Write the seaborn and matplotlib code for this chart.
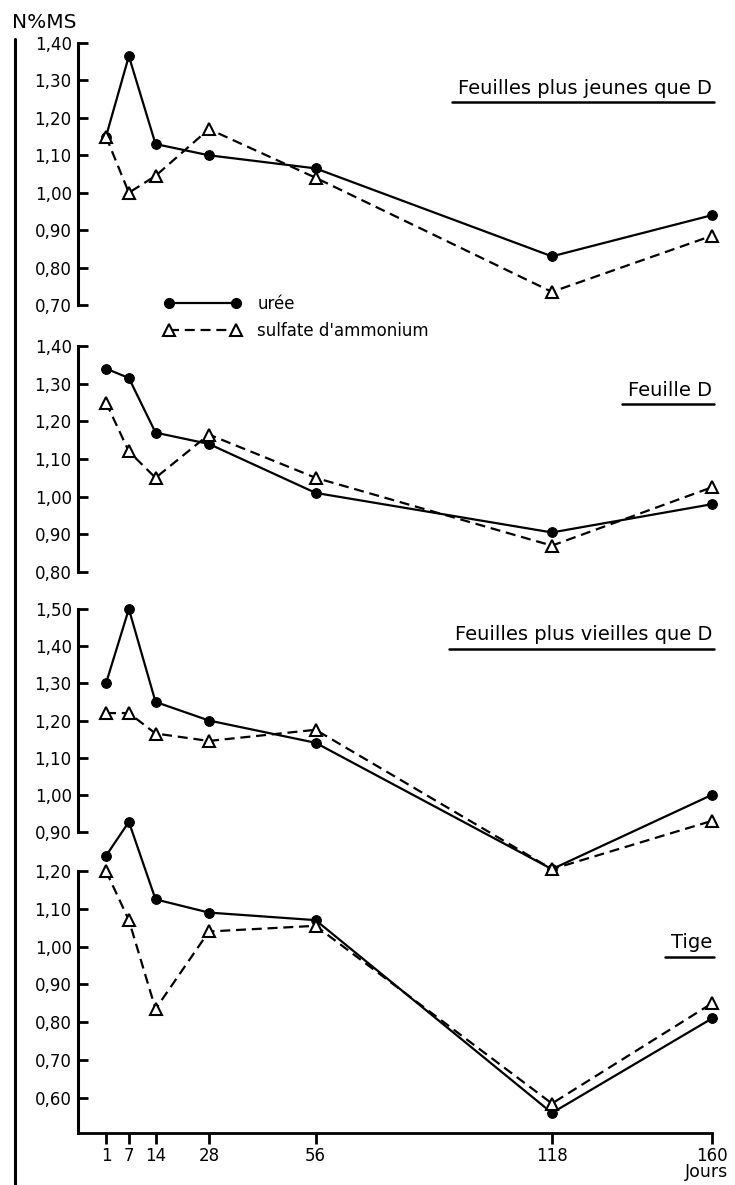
"""
Teneur en azote (N % MS) des organes selon la forme d'engrais.
"""
import matplotlib
matplotlib.use("Agg")
import matplotlib.pyplot as plt
from matplotlib.lines import Line2D
import seaborn as sns

# Données
jours = [1, 7, 14, 28, 56, 118, 160]

jeunes_uree = [1.15, 1.365, 1.13, 1.10, 1.065, 0.83, 0.94]
jeunes_sulfate = [1.15, 1.00, 1.045, 1.17, 1.04, 0.735, 0.885]
feuille_d_uree = [1.34, 1.315, 1.17, 1.14, 1.01, 0.905, 0.98]
feuille_d_sulfate = [1.25, 1.12, 1.05, 1.165, 1.05, 0.87, 1.025]
vieilles_uree = [1.30, 1.50, 1.25, 1.20, 1.14, 0.80, 1.00]
vieilles_sulfate = [1.22, 1.22, 1.165, 1.145, 1.175, 0.80, 0.93]
tige_uree = [1.24, 1.33, 1.125, 1.09, 1.07, 0.56, 0.81]
tige_sulfate = [1.20, 1.07, 0.835, 1.04, 1.055, 0.585, 0.85]

titres = ["Feuilles plus jeunes que D", "Feuille D",
          "Feuilles plus vieilles que D", "Tige"]
ticks_jeunes = [0.70, 0.80, 0.90, 1.00, 1.10, 1.20, 1.30, 1.40]
ticks_feuille_d = [0.80, 0.90, 1.00, 1.10, 1.20, 1.30, 1.40]
ticks_vieilles = [0.90, 1.00, 1.10, 1.20, 1.30, 1.40, 1.50]
ticks_tige = [0.60, 0.70, 0.80, 0.90, 1.00, 1.10, 1.20]

legende = ["urée", "sulfate d'ammonium"]

sns.set_style("ticks")
plt.rcParams["font.family"] = ["DejaVu Sans"]
plt.rcParams["text.color"] = "black"

W, H = 735, 1185
fig = plt.figure(figsize=(W / 100, H / 100), dpi=100)

x_left, x_right = 78, 712
px_per_day = (712 - 106) / 159
xlim = (1 - (106 - x_left) / px_per_day, 160)

# (titre, urée, sulfate, ticks, haut px, bas px, ymin, y titre px)
panels = [
    (titres[0], jeunes_uree, jeunes_sulfate, ticks_jeunes, 43, 305, 0.70, 88),
    (titres[1], feuille_d_uree, feuille_d_sulfate, ticks_feuille_d, 346, 572, 0.80, 390),
    (titres[2], vieilles_uree, vieilles_sulfate, ticks_vieilles, 609, 832, 0.90, 635),
    (titres[3], tige_uree, tige_sulfate, ticks_tige, 871, 1133, 0.507, 943),
]

line_kw = dict(color="black", lw=1.6)
uree_kw = dict(marker="o", ms=7, mfc="black", mec="black")
sulf_kw = dict(marker="^", ms=8, mfc="white", mec="black", mew=1.5,
               linestyle=(0, (4.5, 2.6)))

axes = []
for i, (titre, uree, sulfate, ticks, top, bot, ymin, ytitle) in enumerate(panels):
    ax = fig.add_axes([x_left / W, 1 - bot / H, (x_right - x_left) / W, (bot - top) / H])
    ax.patch.set_alpha(0)
    sns.lineplot(x=jours, y=uree, ax=ax, **line_kw, **uree_kw)
    sns.lineplot(x=jours, y=sulfate, ax=ax, **line_kw, **sulf_kw)
    for ln in ax.lines:
        ln.set_clip_on(False)

    ax.set_xlim(*xlim)
    ax.set_ylim(ymin, ticks[-1])
    ax.set_yticks(ticks)
    ax.set_yticklabels([f"{t:.2f}".replace(".", ",") for t in ticks])
    ax.tick_params(axis="y", direction="in", length=7, width=2, pad=4.5,
                   labelsize=12, colors="black")
    for s in ["top", "right"]:
        ax.spines[s].set_visible(False)
    ax.spines["left"].set_linewidth(2.2)
    ax.spines["left"].set_color("black")
    ax.set_xlabel("")
    ax.set_ylabel("")

    if i < 3:
        ax.spines["left"].set_bounds(ticks[0], ticks[-1])
        ax.spines["bottom"].set_visible(False)
        ax.tick_params(axis="x", bottom=False, labelbottom=False)
    else:
        ax.spines["left"].set_bounds(ymin, ticks[-1])
        ax.spines["bottom"].set_linewidth(2)
        ax.spines["bottom"].set_color("black")
        ax.set_xticks(jours)
        ax.set_xticklabels([str(j) for j in jours])
        ax.tick_params(axis="x", direction="out", length=8, width=2, pad=2,
                       labelsize=12, colors="black")

    fig.text(x_right / W, 1 - ytitle / H, titre, ha="right", va="center",
             fontsize=14)
    axes.append(ax)

# soulignement des titres
fig.canvas.draw()
renderer = fig.canvas.get_renderer()
for t in fig.texts[:]:
    bb = t.get_window_extent(renderer)
    y = bb.y0 - 4
    fig.add_artist(Line2D([(bb.x0 - 6) / W, (bb.x1 + 2) / W], [y / H, y / H],
                          color="black", lw=1.8, transform=fig.transFigure))

handles = [
    Line2D([], [], **line_kw, **uree_kw),
    Line2D([], [], **line_kw, **sulf_kw),
]
fig.legend(handles, legende, numpoints=2, handlelength=4.6, handletextpad=1.0,
           labelspacing=0.55, frameon=False, fontsize=12, borderpad=0,
           borderaxespad=0, loc="upper left",
           bbox_to_anchor=(164 / W, 1 - 295 / H))

fig.text(12 / W, 1 - 23 / H, "N%MS", ha="left", va="center", fontsize=14.5)
fig.text(728 / W, 1 - 1172 / H, "Jours", ha="right", va="center", fontsize=12.5)

# trait vertical à gauche
fig.add_artist(Line2D([15 / W, 15 / W], [1 - 39 / H, 0], color="black", lw=2.2,
                      transform=fig.transFigure))

fig.savefig("out.png", dpi=100)
plt.close()
